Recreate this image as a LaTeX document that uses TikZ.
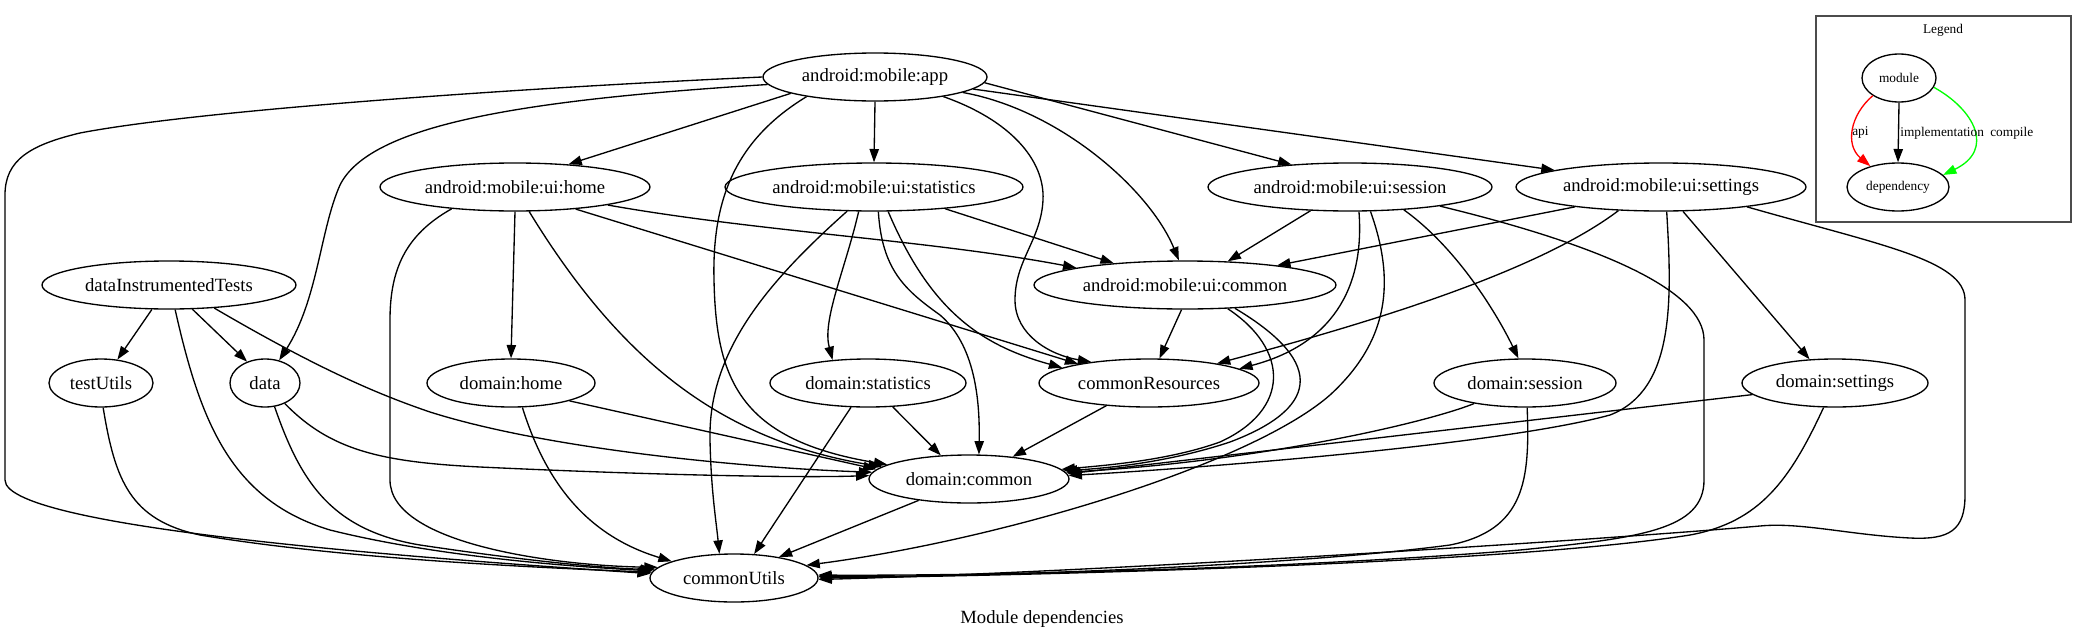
\documentclass[tikz,border=0pt]{standalone}
\usepackage{fontspec}
\setmainfont{Liberation Serif}
\usetikzlibrary{shapes.geometric,arrows.meta}
\newcommand{\mainsz}{\fontsize{14pt}{16pt}\selectfont}
\newcommand{\smallsz}{\fontsize{10pt}{12pt}\selectfont}
\begin{document}
\begin{tikzpicture}[x=0.75pt,y=-0.75pt,
  mod/.style={ellipse, draw, line width=1pt, inner sep=0pt, minimum height=36pt, font=\mainsz},
  legmod/.style={mod, font=\smallsz},
  dep/.style={draw, line width=1pt, -{Triangle[length=10pt,width=7pt]}},
  deplabel/.style={font=\smallsz, inner sep=0pt, anchor=west},
  legendbox/.style={draw=black!70, line width=1.5pt}]
\fill[white] (0,0) rectangle (2087,639);
\useasboundingbox (0,0) rectangle (2087,639);

% nodes
\node[mod, minimum width=168pt]   (app)        at (875,77)   {android:mobile:app};
\node[mod, minimum width=202.5pt] (uihome)     at (515,187)  {android:mobile:ui:home};
\node[mod, minimum width=223.5pt] (uistat)     at (874,187)  {android:mobile:ui:statistics};
\node[mod, minimum width=213pt]   (uisession)  at (1350,187) {android:mobile:ui:session};
\node[mod, minimum width=217.5pt] (uisettings) at (1661,187) {android:mobile:ui:settings};
\node[mod, minimum width=226.5pt] (uicommon)   at (1185,285) {android:mobile:ui:common};
\node[mod, minimum width=190.5pt] (dit)        at (169,285)  {dataInstrumentedTests};
\node[mod, minimum width=78pt]    (testutils)  at (101,383)  {testUtils};
\node[mod, minimum width=52.5pt]  (data)       at (265,383)  {data};
\node[mod, minimum width=126pt]   (dhome)      at (511,383)  {domain:home};
\node[mod, minimum width=147pt]   (dstat)      at (868,383)  {domain:statistics};
\node[mod, minimum width=165pt]   (cres)       at (1149,383) {commonResources};
\node[mod, minimum width=136.5pt] (dsession)   at (1525,383) {domain:session};
\node[mod, minimum width=139.5pt] (dsettings)  at (1835,383) {domain:settings};
\node[mod, minimum width=150pt]   (dcommon)    at (969,479)  {domain:common};
\node[mod, minimum width=126pt]   (cutils)     at (734,578)  {commonUtils};
\node[font=\mainsz] (title) at (1042,619) {Module dependencies};

% android:mobile:app
\draw[dep] (app.180) .. controls (520,88) and (200,110) .. (80,133) .. controls (30,145) and (5,160) .. (5,195) -- (5,480) .. controls (5,530) and (450,560) .. (cutils.177);
\draw[dep] (app.184) .. controls (520,100) and (370,125) .. (340,185) .. controls (320,230) and (318,300) .. (data.58);
\draw[dep] (app.191) -- (uihome.23);
\draw[dep] (app.south) -- (uistat.north);
\draw[dep] (app.196) .. controls (735,140) and (712,200) .. (714,280) .. controls (716,380) and (740,440) .. (dcommon.170);
\draw[dep] (app.344) .. controls (1010,120) and (1045,160) .. (1043,200) .. controls (1041,240) and (1015,260) .. (1015,300) .. controls (1015,335) and (1050,355) .. (cres.160);
\draw[dep] (app.350) .. controls (1060,110) and (1150,190) .. (uicommon.104);
\draw[dep] (app.357) -- (uisession.159);
\draw[dep] (app.353) -- (uisettings.171);

% android:mobile:ui:home
\draw[dep] (uihome.199) .. controls (405,235) and (390,270) .. (390,320) -- (390,480) .. controls (390,545) and (560,566) .. (cutils.172);
\draw[dep] (uihome.south) -- (dhome.north);
\draw[dep] (uihome.300) .. controls (620,360) and (720,440) .. (dcommon.172);
\draw[dep] (uihome.340) -- (cres.165);
\draw[dep] (uihome.349) .. controls (760,232) and (930,240) .. (uicommon.171);

% android:mobile:ui:statistics
\draw[dep] (uistat.343) -- (uicommon.163);
\draw[dep] (uistat.238) .. controls (845,270) and (822,320) .. (dstat.147);
\draw[dep] (uistat.280) .. controls (882,270) and (905,290) .. (940,315) .. controls (975,345) and (980,400) .. (dcommon.68);
\draw[dep] (uistat.300) .. controls (930,310) and (980,345) .. (cres.170);
\draw[dep] (uistat.222) .. controls (770,280) and (708,350) .. (710,440) .. controls (711,490) and (716,520) .. (cutils.121);

% android:mobile:ui:common
\draw[dep] (uicommon.262) -- (cres.67);
\draw[dep] (uicommon.331) .. controls (1290,350) and (1290,410) .. (1220,442) .. controls (1170,460) and (1110,465) .. (dcommon.6);
\draw[dep] (uicommon.335) .. controls (1330,365) and (1315,410) .. (1230,442) .. controls (1170,462) and (1110,468) .. (dcommon.5);

% android:mobile:ui:session
\draw[dep] (uisession.211) -- (uicommon.29);
\draw[dep] (uisession.290) .. controls (1365,290) and (1330,345) .. (cres.9);
\draw[dep] (uisession.310) .. controls (1395,280) and (1390,340) .. (1330,395) .. controls (1250,465) and (1000,540) .. (cutils.10);
\draw[dep] (uisession.337) .. controls (1460,250) and (1500,320) .. (dsession.105);
\draw[dep] (uisession.348) .. controls (1600,245) and (1704,290) .. (1704,340) -- (1704,480) .. controls (1704,530) and (1640,538) .. (1520,550) .. controls (1300,568) and (1000,576) .. (cutils.2);

% android:mobile:ui:settings
\draw[dep] (uisettings.193) -- (uicommon.12);
\draw[dep] (uisettings.209) .. controls (1540,270) and (1380,320) .. (cres.16);
\draw[dep] (uisettings.283) .. controls (1672,300) and (1675,390) .. (1610,415) .. controls (1500,445) and (1200,468) .. (dcommon.2);
\draw[dep] (uisettings.312) -- (dsettings.137);
\draw[dep] (uisettings.347) .. controls (1880,245) and (1965,260) .. (1965,300) -- (1965,495) .. controls (1965,530) and (1950,540) .. (1910,538) .. controls (1850,535) and (1800,522) .. (1760,526) .. controls (1600,540) and (1100,572) .. (cutils.359);

% dataInstrumentedTests
\draw[dep] (dit.235) -- (testutils.55);
\draw[dep] (dit.314) -- (data.130);
\draw[dep] (dit.284) .. controls (200,420) and (230,500) .. (330,530) .. controls (450,560) and (600,568) .. (cutils.175);
\draw[dep] (dit.333) .. controls (320,370) and (380,395) .. (430,412) .. controls (550,450) and (750,468) .. (dcommon.176);

% testUtils, data
\draw[dep] (testutils.275) .. controls (115,480) and (130,520) .. (200,535) .. controls (350,560) and (550,568) .. (cutils.176);
\draw[dep] (data.292) .. controls (300,480) and (330,530) .. (420,545) .. controls (520,560) and (600,568) .. (cutils.174);
\draw[dep] (data.314) .. controls (330,450) and (380,462) .. (480,467) .. controls (650,475) and (800,478) .. (dcommon.178);

% domain modules
\draw[dep] (dhome.343) -- (dcommon.174);
\draw[dep] (dhome.295) .. controls (545,480) and (585,535) .. (cutils.165);
\draw[dep] (dstat.316) -- (dcommon.140);
\draw[dep] (dstat.235) -- (cutils.50);
\draw[dep] (cres.208) -- (dcommon.27);
\draw[dep] (dsession.202) .. controls (1420,425) and (1250,462) .. (dcommon.4);
\draw[dep] (dsession.275) .. controls (1530,480) and (1525,530) .. (1450,545) .. controls (1300,565) and (1000,577) .. (cutils.1);
\draw[dep] (dsettings.188) -- (dcommon.3);
\draw[dep] (dsettings.245) .. controls (1790,480) and (1760,522) .. (1690,535) .. controls (1500,565) and (1000,576) .. (cutils.0);
\draw[dep] (dcommon.203) -- (cutils.25);

% legend
\draw[legendbox] (1816,16) rectangle (2071,222);
\node[font=\smallsz] (legendtitle) at (1943,30) {Legend};
\node[legmod, minimum width=55.5pt] (module) at (1899,78) {module};
\node[legmod, minimum width=76.5pt] (dependency) at (1898,187) {dependency};
\draw[dep, red] (module.214) .. controls (1850,115) and (1845,145) .. (dependency.143);
\draw[dep] (module.south) -- (dependency.north);
\draw[dep, green] (module.345) .. controls (1975,110) and (1995,150) .. (dependency.15);
\node[deplabel] (apilabel) at (1852,133) {api};
\node[deplabel] (impllabel) at (1900,133) {implementation};
\node[deplabel] (compilelabel) at (1990,133) {compile};
\end{tikzpicture}
\end{document}
